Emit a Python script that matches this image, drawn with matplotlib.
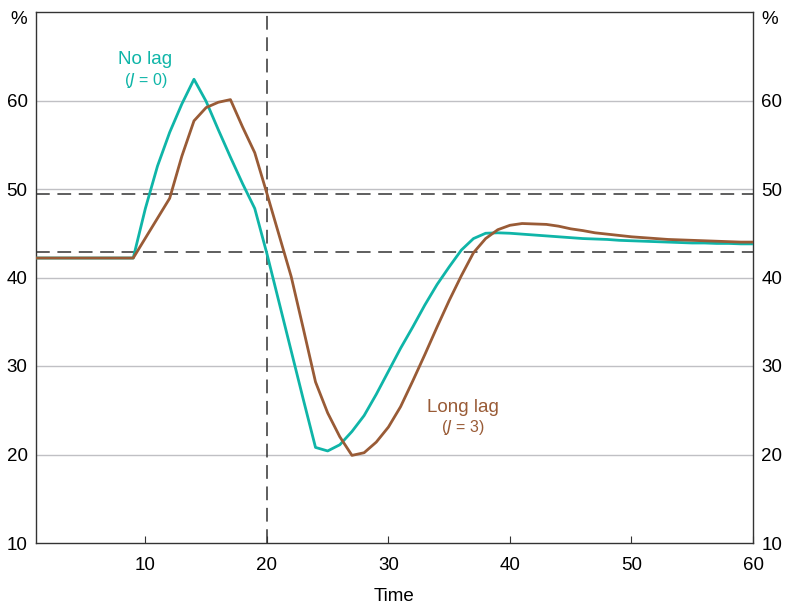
import numpy as np
import matplotlib.pyplot as plt

plt.rcParams["font.family"] = ["Liberation Sans", "DejaVu Sans"]

time = np.arange(1, 61)

no_lag = [42.2] * 9 + [
    47.8, 52.6, 56.4, 59.6, 62.4, 59.9, 56.7, 53.6, 50.6, 47.8,
    42.7, 37.2, 31.7, 26.2, 20.8, 20.4, 21.1, 22.6, 24.4, 26.8,
    29.4, 32.0, 34.4, 36.9, 39.2, 41.2, 43.1, 44.4, 45.0, 45.05,
    45.0, 44.9, 44.8, 44.7, 44.6, 44.5, 44.4, 44.35, 44.3, 44.2,
    44.15, 44.1, 44.05, 44.0, 43.95, 43.9, 43.9, 43.85, 43.85, 43.8,
    43.8,
]
long_lag = [42.2] * 9 + [
    44.45, 46.7, 48.95, 53.7, 57.7, 59.2, 59.8, 60.1, 57.0, 54.1,
    49.5, 44.8, 40.1, 34.2, 28.2, 24.7, 22.0, 19.9, 20.2, 21.4,
    23.1, 25.4, 28.3, 31.3, 34.4, 37.4, 40.2, 42.8, 44.4, 45.4,
    45.9, 46.1, 46.05, 46.0, 45.8, 45.5, 45.3, 45.05, 44.9, 44.75,
    44.6, 44.5, 44.4, 44.3, 44.25, 44.2, 44.15, 44.1, 44.05, 44.0,
    44.0,
]
thresholds = [49.4, 42.85]
shock_time = 20

teal = "#0FB5A8"
brown = "#995B36"
dark = "#333333"

fig = plt.figure(figsize=(7.88, 6.05), dpi=100)
ax = fig.add_axes([36 / 788, 62 / 605, 717 / 788, 531 / 605])

for v in [20, 30, 40, 50, 60]:
    ax.axhline(v, color="#C0C0C4", lw=1.0, zorder=1)
for v in thresholds:
    ax.axhline(v, color=dark, lw=1.1, dashes=(9, 5), zorder=2)
ax.axvline(shock_time, color=dark, lw=1.1, dashes=(9, 5), zorder=2)

ax.plot(time, no_lag, color=teal, lw=2.0, zorder=3)
ax.plot(time, long_lag, color=brown, lw=2.0, zorder=3)

ax.text(10, 64.6, "No lag", color=teal, fontsize=13.5, ha="center", va="center")
ax.text(10, 62.3, "($\\it{J}$ = 0)", color=teal, fontsize=11.5, ha="center", va="center")
ax.text(36.1, 25.3, "Long lag", color=brown, fontsize=13.5, ha="center", va="center")
ax.text(36.1, 23.0, "($\\it{J}$ = 3)", color=brown, fontsize=11.5, ha="center", va="center")

ax.set_xlim(1, 60)
ax.set_ylim(10, 70)
ax.set_xticks([10, 20, 30, 40, 50, 60])
ax.set_yticks([10, 20, 30, 40, 50, 60])
ax.tick_params(axis="x", direction="in", length=5, color=dark, labelsize=13.5, pad=10)
ax.tick_params(axis="y", length=0, labelsize=13.5, pad=6, left=True, right=True,
               labelleft=True, labelright=True)
for s in ax.spines.values():
    s.set_color(dark)
    s.set_linewidth(1.0)

ax.text(-0.012, 0.985, "%", transform=ax.transAxes, fontsize=13.5, ha="right", va="center")
ax.text(1.012, 0.985, "%", transform=ax.transAxes, fontsize=13.5, ha="left", va="center")
ax.set_xlabel("Time", fontsize=13.5, labelpad=10)

plt.savefig("out.png", dpi=100)
